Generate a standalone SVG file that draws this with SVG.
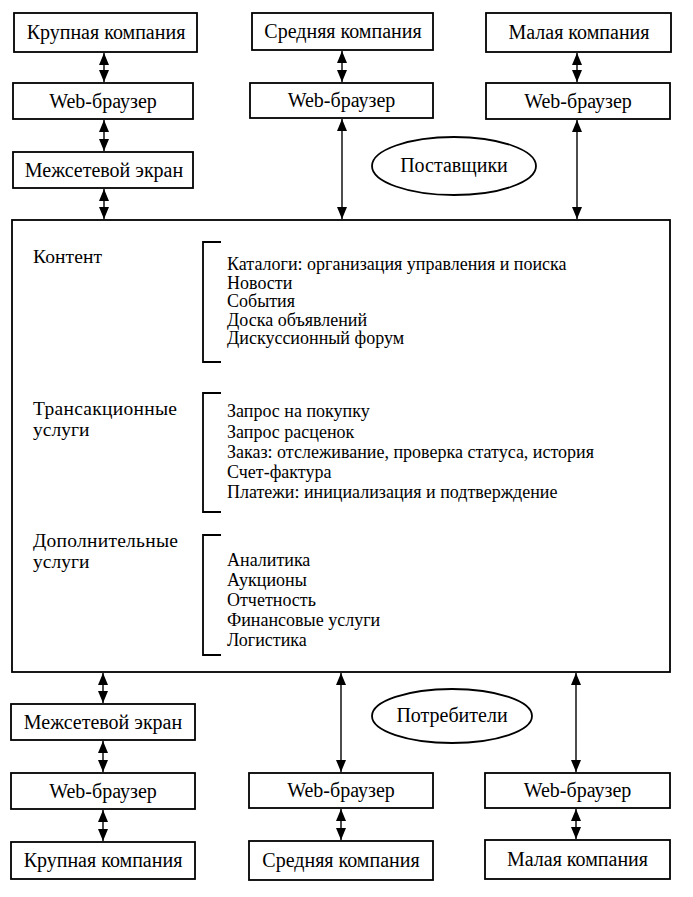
<svg xmlns="http://www.w3.org/2000/svg" width="693" height="897" viewBox="0 0 693 897">
<defs>
<style>
.box{fill:#fff;stroke:#000;stroke-width:1.8}
.lbl{font-family:"Liberation Serif","Times New Roman",serif;font-size:20px;fill:#000;text-anchor:middle}
.txt{font-family:"Liberation Serif","Times New Roman",serif;font-size:18px;fill:#000}
.cap{font-family:"Liberation Serif","Times New Roman",serif;font-size:19.5px;fill:#000}
.con{stroke:#000;stroke-width:1.4;fill:none;marker-start:url(#ah);marker-end:url(#ah)}
.br{stroke:#000;stroke-width:1.8;fill:none}
</style>
<marker id="ah" markerUnits="userSpaceOnUse" markerWidth="12" markerHeight="12" viewBox="0 0 12 12" refX="12" refY="6" orient="auto-start-reverse">
<path d="M0,1 L12,6 L0,11 Z" fill="#000"/>
</marker>
</defs>
<rect width="693" height="897" fill="#fff"/>

<g id="top-large"><rect class="box" x="14" y="13" width="183" height="39"/><text class="lbl" x="106" y="39">Крупная компания</text></g>
<g id="top-medium"><rect class="box" x="252" y="13" width="181" height="37"/><text class="lbl" x="343" y="38">Средняя компания</text></g>
<g id="top-small"><rect class="box" x="486" y="13" width="185" height="39"/><text class="lbl" x="579" y="39">Малая компания</text></g>
<g id="top-browser-1"><rect class="box" x="13" y="83" width="180" height="36"/><text class="lbl" x="103" y="108">Web-браузер</text></g>
<g id="top-browser-2"><rect class="box" x="250" y="83" width="183" height="35"/><text class="lbl" x="341.5" y="107">Web-браузер</text></g>
<g id="top-browser-3"><rect class="box" x="486" y="83" width="184" height="36"/><text class="lbl" x="578" y="108">Web-браузер</text></g>
<g id="top-firewall"><rect class="box" x="13" y="152" width="180" height="36"/><text class="lbl" x="104" y="177">Межсетевой экран</text></g>
<g id="suppliers"><ellipse class="box" cx="454" cy="166" rx="82" ry="29"/><text class="lbl" x="454" y="172">Поставщики</text></g>

<g id="platform">
<rect class="box" x="12" y="220" width="658" height="452"/>
<text class="cap" x="33" y="263" textLength="69">Контент</text>
<path class="br" d="M221,242 H203 V362 H221"/>
<text class="txt" x="227" y="270">Каталоги: организация управления и поиска</text>
<text class="txt" x="227" y="288.5">Новости</text>
<text class="txt" x="227" y="307">События</text>
<text class="txt" x="227" y="325.5">Доска объявлений</text>
<text class="txt" x="227" y="344">Дискуссионный форум</text>

<text class="cap" x="33" y="415" textLength="144">Трансакционные</text>
<text class="cap" x="33" y="436">услуги</text>
<path class="br" d="M221,393 H203 V512 H221"/>
<text class="txt" x="227" y="417">Запрос на покупку</text>
<text class="txt" x="227" y="437.5">Запрос расценок</text>
<text class="txt" x="227" y="458">Заказ: отслеживание, проверка статуса, история</text>
<text class="txt" x="227" y="478">Счет-фактура</text>
<text class="txt" x="227" y="498">Платежи: инициализация и подтверждение</text>

<text class="cap" x="33" y="547" textLength="145">Дополнительные</text>
<text class="cap" x="33" y="568">услуги</text>
<path class="br" d="M221,535 H203 V655 H221"/>
<text class="txt" x="227" y="566">Аналитика</text>
<text class="txt" x="227" y="586">Аукционы</text>
<text class="txt" x="227" y="606">Отчетность</text>
<text class="txt" x="227" y="626">Финансовые услуги</text>
<text class="txt" x="227" y="646">Логистика</text>
</g>

<g id="bottom-firewall"><rect class="box" x="11" y="704" width="184" height="36"/><text class="lbl" x="103" y="729">Межсетевой экран</text></g>
<g id="bottom-browser-1"><rect class="box" x="11" y="773" width="184" height="36"/><text class="lbl" x="103" y="798">Web-браузер</text></g>
<g id="bottom-large"><rect class="box" x="11" y="842" width="184" height="37"/><text class="lbl" x="103" y="867">Крупная компания</text></g>
<g id="bottom-browser-2"><rect class="box" x="249" y="773" width="184" height="35"/><text class="lbl" x="341" y="797">Web-браузер</text></g>
<g id="bottom-medium"><rect class="box" x="249" y="841" width="184" height="39"/><text class="lbl" x="341" y="867">Средняя компания</text></g>
<g id="bottom-browser-3"><rect class="box" x="485" y="773" width="185" height="35"/><text class="lbl" x="577.5" y="797">Web-браузер</text></g>
<g id="bottom-small"><rect class="box" x="485" y="840" width="185" height="39"/><text class="lbl" x="577.5" y="866">Малая компания</text></g>
<g id="consumers"><ellipse class="box" cx="452" cy="716" rx="80" ry="27"/><text class="lbl" x="452" y="722">Потребители</text></g>

<g id="connectors">
<line class="con" x1="104" y1="53" x2="104" y2="82"/>
<line class="con" x1="104" y1="120" x2="104" y2="151"/>
<line class="con" x1="104" y1="189" x2="104" y2="219"/>
<line class="con" x1="342" y1="51" x2="342" y2="82"/>
<line class="con" x1="342" y1="119" x2="342" y2="219"/>
<line class="con" x1="577" y1="53" x2="577" y2="82"/>
<line class="con" x1="577" y1="120" x2="577" y2="219"/>
<line class="con" x1="103" y1="673" x2="103" y2="703"/>
<line class="con" x1="103" y1="741" x2="103" y2="772"/>
<line class="con" x1="103" y1="810" x2="103" y2="841"/>
<line class="con" x1="341" y1="673" x2="341" y2="772"/>
<line class="con" x1="341" y1="809" x2="341" y2="840"/>
<line class="con" x1="576" y1="673" x2="576" y2="772"/>
<line class="con" x1="576" y1="809" x2="576" y2="839"/>
</g>
</svg>
